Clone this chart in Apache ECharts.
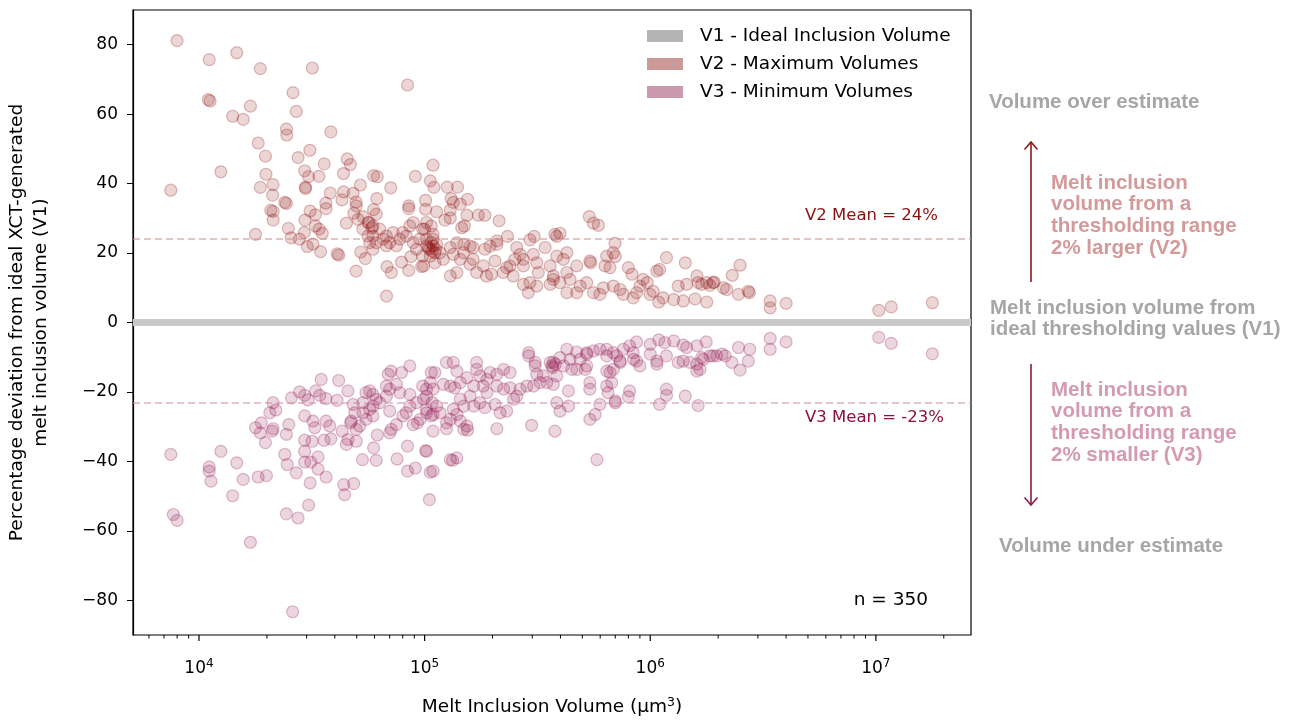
<!DOCTYPE html>
<html>
<head>
<meta charset="utf-8">
<script src="https://cdn.jsdelivr.net/npm/echarts@6/dist/echarts.min.js"></script>
<style>
  html, body { margin: 0; padding: 0; background: #fff; }
  #chart { width: 1298px; height: 720px; }
</style>
</head>
<body>
<div id="chart"></div>
<script>
// V2: thresholding range 2% larger -> [volume (µm3), deviation (%)]
const v2Max = [
  [8.0e3,81.2],[1.11e4,75.7],[1.47e4,77.7],[1.87e4,73.1],[3.18e4,73.3],[8.4e4,68.4],
  [1.10e4,64.2],[1.12e4,63.8],[2.61e4,66.2],[1.69e4,62.3],[1.41e4,59.4],[1.57e4,58.5],
  [2.70e4,60.8],[2.44e4,55.7],[2.45e4,54.0],[3.84e4,54.9],[1.83e4,51.7],[1.97e4,47.9],
  [2.75e4,47.5],[3.10e4,49.6],[3.59e4,45.7],[4.54e4,47.1],[4.69e4,45.5],[1.25e4,43.4],
  [7.5e3,38.1],[1.98e4,42.7],[2.94e4,43.7],[3.06e4,42.0],[3.40e4,42.1],[4.37e4,42.9],
  [5.94e4,42.3],[6.17e4,42.0],[9.1e4,42.1],[1.09e5,45.3],[1.87e4,38.9],[2.13e4,39.7],
  [2.96e4,39.0],[2.97e4,38.6],[5.19e4,39.6],[7.08e4,38.8],[1.06e5,40.8],[2.12e4,36.7],
  [3.82e4,37.3],[4.37e4,37.6],[4.82e4,37.2],[4.30e4,35.3],[6.14e4,35.7],[1.01e5,35.2],
  [2.40e4,34.6],[2.44e4,34.3],[3.65e4,34.4],[3.66e4,32.8],[4.97e4,34.7],[4.98e4,33.6],
  [8.5e4,33.6],[8.5e4,32.8],[1.01e5,32.6],[2.08e4,32.3],[2.13e4,32.0],[2.13e4,29.5],
  [3.11e4,32.1],[3.28e4,31.0],[2.95e4,29.5],[4.86e4,31.5],[5.33e4,30.5],[5.94e4,32.5],
  [6.1e4,31.2],[4.5e4,28.6],[5.07e4,29.7],[5.67e4,28.8],[5.85e4,27.3],[3.28e4,27.8],
  [3.41e4,26.9],[3.52e4,25.7],[2.49e4,27.1],[2.93e4,25.9],[1.78e4,25.4],[2.56e4,24.4],
  [2.79e4,24.0],[3.02e4,21.9],[3.2e4,22.6],[3.46e4,20.4],[4.10e4,19.8],[4.16e4,19.4],
  [4.97e4,14.8],[5.21e4,20.3],[5.46e4,18.4],[6.78e4,7.6],[6.81e4,16.1],[7.12e4,14.4],
  [7.9e4,17.4],[8.5e4,15.0],[8.7e4,19.0],[9.7e4,16.1],
  [5.61e4,28.8],[5.9e4,27.8],[6.32e4,26.9],[6.77e4,24.9],[7.25e4,25.9],[7.76e4,24.0],
  [8.3e4,24.9],[8.9e4,23.0],[9.5e4,24.0],[1.02e5,22.1],[1.05e5,21.1],[1.07e5,27.8],
  [1.02e5,28.8],[9.8e4,26.9],[8.9e4,28.8],[8.6e4,27.8],[8.0e4,25.9],[7.0e4,23.0],
  [6.54e4,24.0],[6.1e4,23.0],[5.9e4,21.1],[5.71e4,23.0],[5.61e4,24.9],[5.33e4,26.9],
  [5.9e4,24.9],[6.77e4,22.1],[7.5e4,22.1],[9.2e4,21.1],[9.8e4,19.1],[1.02e5,24.0],
  [1.09e5,24.0],
  [1.10e5,38.9],[1.26e5,39.0],[1.40e5,39.0],[1.31e5,35.7],[1.34e5,34.6],[1.44e5,34.1],
  [1.55e5,35.5],[1.13e5,31.9],[1.30e5,32.4],[1.54e5,30.9],[1.73e5,30.9],[1.85e5,30.9],
  [2.14e5,29.3],[1.23e5,29.5],[1.30e5,30.1],[1.00e5,26.9],[1.09e5,25.4],[1.46e5,27.3],
  [1.50e5,27.8],[5.37e5,30.5],[5.6e5,28.6],[5.89e5,28.0],[3.78e5,25.4],[3.98e5,25.7],
  [3.85e5,24.8],[3.06e5,24.8],[2.93e5,23.8],[2.33e5,24.8],[2.09e5,23.5],[2.09e5,22.5],
  [1.95e5,22.0],[1.85e5,21.1],[1.64e5,21.6],
  [1.07e5,23.0],[1.09e5,22.1],[1.12e5,21.1],[1.08e5,20.6],[1.11e5,20.1],[1.06e5,19.1],
  [1.04e5,21.6],[1.13e5,22.5],
  [2.56e5,21.6],[2.65e5,19.6],[2.51e5,18.2],[2.74e5,18.2],[3.03e5,19.6],[3.14e5,17.2],
  [3.42e5,21.6],[6.98e5,22.8],[6.86e5,20.1],[6.41e5,19.1],[6.3e5,16.3],[6.63e5,15.8],
  [7.0e5,19.0],[5.4e5,17.7],[5.45e5,17.2],[1.18e6,18.7],[1.43e6,17.2],[8.0e5,15.8],
  [8.3e5,13.9],[1.07e6,14.8],[1.10e6,15.3],[1.61e6,13.4],[1.63e6,11.5],[1.45e6,11.0],
  [1.33e6,10.5],[1.78e6,11.5],[1.90e6,11.5],[1.40e6,6.2],[1.78e6,5.9],[1.58e6,6.8],
  [1.27e6,6.6],[1.14e6,7.1],[1.09e6,5.9],[9.98e5,8.1],[1.03e6,9.0],[8.4e5,7.1],
  [8.7e5,8.6],[9.0e5,10.5],[9.3e5,12.4],[9.7e5,11.5],[7.35e5,9.5],[7.6e5,8.1],
  [6.86e5,10.5],[6.2e5,10.0],[5.98e5,8.1],[5.6e5,8.6],[5.23e5,11.5],[4.89e5,10.5],
  [4.27e5,8.6],[4.72e5,8.6],[4.41e5,12.4],[3.98e5,11.5],[3.72e5,12.4],[3.6e5,11.0],
  [3.19e5,14.4],[3.14e5,10.5],[2.93e5,11.5],[2.88e5,8.6],[2.74e5,11.0],[2.47e5,13.4],
  [2.23e5,14.4],[2.31e5,15.8],[1.98e5,13.9],[1.88e5,13.4],[1.70e5,14.4],[1.39e5,14.4],
  [1.30e5,13.4],[1.82e5,16.3],[2.05e5,17.7],[2.39e5,16.3],[2.74e5,16.3],[3.6e5,16.3],
  [3.72e5,13.4],[4.27e5,14.4],[4.72e5,16.3],[4.27e5,20.1],[3.85e5,19.1],[4.12e5,18.2],
  [1.64e5,18.2],[1.59e5,16.8],[1.44e5,18.2],[1.34e5,19.6],[1.49e5,20.1],[1.17e5,20.1],
  [1.21e5,18.2],[9.9e4,16.3],[1.11e5,17.2],[1.30e5,21.6],[1.39e5,23.0],[1.49e5,22.5],
  [1.59e5,22.0],
  [2.5e6,16.5],[2.31e6,13.6],[1.92e6,11.6],[1.84e6,10.7],[1.69e6,11.0],[2.11e6,10.0],
  [2.18e6,9.5],[2.46e6,8.1],[2.72e6,9.0],[2.75e6,8.6],[3.4e6,6.2],[3.4e6,4.2],
  [4.0e6,5.5],[1.03e7,3.5],[1.17e7,4.5],[1.78e7,5.7]
];

// V3: thresholding range 2% smaller
const v3Min = [
  [7.5e3,-38.0],[7.7e3,-55.3],[8.0e3,-57.0],[1.11e4,-41.6],[1.11e4,-42.8],[1.13e4,-45.7],
  [1.25e4,-37.1],[1.47e4,-40.4],[1.41e4,-49.9],[1.57e4,-45.2],[1.69e4,-63.3],[1.83e4,-44.5],
  [1.99e4,-44.1],[1.78e4,-30.3],[1.89e4,-28.9],[2.13e4,-30.6],[2.11e4,-31.3],[1.87e4,-31.8],
  [1.97e4,-34.6],[2.06e4,-26.0],[2.13e4,-23.1],[2.19e4,-25.2],[2.40e4,-38.0],[2.46e4,-40.9],
  [2.44e4,-32.2],[2.50e4,-29.4],[2.44e4,-55.1],[2.60e4,-83.3],[2.75e4,-56.3],[2.70e4,-43.3],
  [2.57e4,-21.7],[2.79e4,-20.0],[2.94e4,-21.0],[3.04e4,-22.3],[2.94e4,-26.9],[3.2e4,-28.4],
  [3.26e4,-30.3],[2.94e4,-33.9],[3.17e4,-34.2],[2.94e4,-37.1],[2.94e4,-40.2],[3.13e4,-40.2],
  [3.37e4,-38.7],[3.37e4,-42.2],[3.66e4,-44.5],[3.11e4,-46.2],[3.06e4,-52.6],[3.29e4,-19.7],
  [3.48e4,-16.4],[3.43e4,-21.0],[3.65e4,-21.9],[3.58e4,-33.9],[3.84e4,-33.5],[3.66e4,-28.4],
  [3.8e4,-29.8],[4.16e4,-16.7],[4.09e4,-22.4],[4.57e4,-19.7],[4.31e4,-31.3],[4.57e4,-33.7],
  [4.5e4,-35.1],[4.98e4,-34.2],[4.38e4,-46.7],[4.42e4,-49.6],[4.85e4,-46.4],[5.3e4,-39.5],
  [6.1e4,-39.7],[5.94e4,-36.1],[6.17e4,-32.4],[4.73e4,-28.4],[5.15e4,-29.8],[4.98e4,-30.8],
  [7.0e4,-25.5],[7.12e4,-30.8],[7.5e4,-29.4],[7.0e4,-31.8],[7.55e4,-39.3],[8.4e4,-42.8],
  [9.1e4,-41.9],[8.4e4,-35.6],[1.01e5,-36.9],[1.06e5,-43.1],[1.05e5,-51.0],[8.9e4,-29.4],
  [6.9e4,-14.9],[7.1e4,-14.0],[7.9e4,-14.4],[8.6e4,-12.5],[6.77e4,-18.3],[7.5e4,-17.8],
  [5.9e4,-20.7],[5.5e4,-20.2],[5.33e4,-23.1],[5.71e4,-25.0],[5.9e4,-26.9],[4.82e4,-23.6],
  [4.9e4,-26.0],[5.5e4,-27.9],[6.32e4,-23.1],[6.77e4,-21.2],[7.76e4,-20.2],[8.6e4,-20.7],
  [8.6e4,-24.1],[9.2e4,-23.1],[9.8e4,-18.3],[1.02e5,-21.2],[1.02e5,-25.0],[1.07e5,-14.4],
  [1.07e5,-26.9],[8.3e4,-26.0],[8.0e4,-26.9],[7.0e4,-19.2],[5.9e4,-24.1],[6.1e4,-22.1],
  [5.71e4,-19.7],[5.33e4,-26.0],[4.7e4,-28.9],[9.3e4,-28.9],
  [5.8e5,-39.5],[1.09e6,-5.0],[1.16e6,-5.8],[1.27e6,-5.3],[1.40e6,-6.5],[1.45e6,-7.2],
  [1.61e6,-6.7],[1.77e6,-5.6],[8.7e5,-5.6],[8.1e5,-6.7],[7.6e5,-7.7],[1.0e6,-6.3],
  [8.4e5,-8.7],[6.86e5,-8.7],[6.41e5,-7.7],[5.98e5,-7.7],[5.6e5,-8.2],[5.23e5,-8.7],
  [4.72e5,-8.5],[4.27e5,-7.7],[3.98e5,-10.1],[4.41e5,-10.6],[4.89e5,-10.6],[5.23e5,-9.1],
  [6.41e5,-9.6],[7.1e5,-9.6],[7.35e5,-11.1],[8.7e5,-11.1],[9.0e5,-12.5],[1.07e6,-11.1],
  [1.07e6,-12.0],[1.0e6,-9.1],[1.18e6,-9.6],[1.33e6,-11.5],[1.40e6,-11.1],[1.50e6,-11.5],
  [1.61e6,-12.0],[1.61e6,-14.0],[1.69e6,-10.1],[1.84e6,-9.6],[1.97e6,-9.6],
  [5.4e5,-17.3],[5.4e5,-19.2],[6.41e5,-18.3],[6.75e5,-17.3],[6.5e5,-20.2],[7.0e5,-22.6],
  [7.0e5,-23.1],[8.1e5,-19.7],[8.0e5,-21.4],[1.18e6,-19.2],[1.18e6,-21.0],[1.10e6,-23.6],
  [1.43e6,-21.2],[1.63e6,-23.9],[5.98e5,-23.6],[5.4e5,-27.9],[5.7e5,-26.5],[4.34e5,-19.7],
  [4.34e5,-24.1],[3.85e5,-23.1],[3.98e5,-25.5],[3.78e5,-31.3],[2.98e5,-29.6],[2.09e5,-30.6],
  [1.49e5,-30.8],[1.55e5,-31.0],[1.25e5,-30.6],[1.09e5,-31.3],[1.02e5,-37.1],[1.30e5,-39.5],
  [1.39e5,-39.0],[1.33e5,-39.7],[1.09e5,-42.8],
  [2.89e5,-8.7],[2.89e5,-9.6],[3.09e5,-11.5],[3.09e5,-12.5],[3.6e5,-11.5],[3.66e5,-12.5],
  [3.72e5,-11.5],[4.13e5,-12.5],[4.49e5,-13.5],[4.73e5,-13.5],[5.15e5,-13.5],[5.23e5,-12.5],
  [6.42e5,-14.0],[6.64e5,-14.4],[6.87e5,-13.5],[7.36e5,-11.5],[8.43e5,-10.6],[2.39e5,-14.4],
  [2.24e5,-13.5],[2.09e5,-14.9],[1.95e5,-14.4],[1.89e5,-16.4],[1.76e5,-15.4],[1.65e5,-18.3],
  [1.54e5,-15.9],[1.44e5,-17.3],[1.36e5,-18.8],[1.30e5,-18.3],[1.25e5,-11.5],[1.34e5,-11.5],
  [1.39e5,-14.0],[1.70e5,-11.5],[1.70e5,-13.5],[1.11e5,-14.4],[1.21e5,-17.8],[1.06e5,-17.3],
  [1.02e5,-19.2],[1.09e5,-19.2],[9.9e4,-22.1],[1.08e5,-23.1],[1.13e5,-24.1],[1.02e5,-26.0],
  [9.55e4,-27.9],[1.44e5,-22.1],[1.49e5,-24.1],[1.34e5,-25.0],[1.65e5,-24.1],[1.59e5,-21.2],
  [1.85e5,-24.5],[2.05e5,-23.6],[2.16e5,-26.0],[2.31e5,-25.5],[2.48e5,-22.1],[2.56e5,-21.2],
  [2.65e5,-19.2],[2.84e5,-18.3],[3.04e5,-18.3],[3.25e5,-17.3],[3.48e5,-17.3],[3.72e5,-17.8],
  [3.14e5,-14.9],[3.36e5,-15.4],[3.85e5,-15.4],[2.24e5,-19.2],[2.39e5,-18.8],[2.09e5,-18.3],
  [1.89e5,-20.2],[1.82e5,-18.3],[1.30e5,-27.9],[1.25e5,-28.9],[1.44e5,-28.4],[1.54e5,-29.8],
  [1.76e5,-23.1],[1.39e5,-26.5],[1.17e5,-26.0],[1.09e5,-26.5],[3.7e5,-13.0],[3.8e5,-12.0],
  [2.46e6,-7.2],[2.76e6,-7.7],[2.72e6,-11.1],[2.5e6,-13.7],[2.3e6,-11.5],[2.15e6,-9.6],
  [2.08e6,-9.1],[1.9e6,-9.6],[1.72e6,-10.6],[1.66e6,-13.5],[3.4e6,-4.6],[3.4e6,-7.7],
  [4.0e6,-5.6],[1.03e7,-4.3],[1.17e7,-6.0],[1.78e7,-9.0]
];

const v2Mean = 24;
const v3Mean = -23;
const sampleCount = 350;
const yTicks = [-80, -60, -40, -20, 0, 20, 40, 60, 80];
const xMajorTicks = [1e4, 1e5, 1e6, 1e7];
const xMinorTicks = [6e3, 7e3, 8e3, 9e3, 2e4, 3e4, 4e4, 5e4, 6e4, 7e4, 8e4, 9e4,
  2e5, 3e5, 4e5, 5e5, 6e5, 7e5, 8e5, 9e5, 2e6, 3e6, 4e6, 5e6, 6e6, 7e6, 8e6, 9e6, 2e7];
const xRange = [5100, 2.64e7];
const yRange = [-90, 90];

const V1 = 'V1 - Ideal Inclusion Volume';
const V2 = 'V2 - Maximum Volumes';
const V3 = 'V3 - Minimum Volumes';
const FONT = 'DejaVu Sans';
const RFONT = 'Liberation Sans';

const chart = echarts.init(document.getElementById('chart'));

function meanLine(value, color) {
  return {
    silent: true,
    symbol: 'none',
    label: { show: false },
    lineStyle: { color: color, width: 2, type: [7, 4] },
    data: [{ yAxis: value }]
  };
}

chart.setOption({
  animation: false,
  grid: {
    left: 133, top: 10, width: 838, height: 625,
    outerBoundsMode: 'none',
    show: true, borderColor: '#000', borderWidth: 1.2, backgroundColor: 'transparent'
  },
  legend: {
    orient: 'vertical',
    left: 647, top: 26,
    padding: 0,
    icon: 'rect',
    itemWidth: 36, itemHeight: 12, itemGap: 8,
    textStyle: { fontFamily: FONT, fontSize: 18.5, color: '#000', lineHeight: 20, padding: [0, 0, 0, 12] },
    data: [
      { name: V1, itemStyle: { color: '#b4b4b4', opacity: 1 }, lineStyle: { opacity: 0 } },
      { name: V2, itemStyle: { color: '#cc9a96', borderWidth: 0, opacity: 1 } },
      { name: V3, itemStyle: { color: '#cc9aae', borderWidth: 0, opacity: 1 } }
    ]
  },
  xAxis: [{
    type: 'log', logBase: 10, min: xRange[0], max: xRange[1],
    position: 'bottom',
    splitLine: { show: false },
    axisLine: { lineStyle: { color: '#000', width: 1.2 } },
    axisTick: { show: false },
    axisLabel: {
      margin: 23,
      color: '#000',
      showMinLabel: false, showMaxLabel: false,
      formatter: function (v) {
        const l = Math.log10(v);
        const e = Math.round(l);
        if (Math.abs(l - e) > 1e-6) return '';
        return '{b|10}{s|' + e + '}';
      },
      rich: {
        b: { fontFamily: FONT, fontSize: 17, color: '#000' },
        s: { fontFamily: FONT, fontSize: 12, color: '#000', padding: [0, 0, 10, 0] }
      }
    },
    name: 'Melt Inclusion Volume (µm{s|3})',
    nameLocation: 'middle',
    nameGap: 61,
    nameTextStyle: {
      fontFamily: FONT, fontSize: 18.5, color: '#000',
      rich: { s: { fontFamily: FONT, fontSize: 12.5, color: '#000', padding: [0, 0, 10, 0] } }
    }
  }],
  yAxis: {
    type: 'value', min: yRange[0], max: yRange[1],
    splitLine: { show: false },
    axisLine: { show: true, lineStyle: { color: '#000', width: 1.2 } },
    axisTick: { show: true, customValues: yTicks, length: 6, lineStyle: { color: '#000' } },
    axisLabel: {
      customValues: yTicks,
      margin: 15,
      fontFamily: FONT, fontSize: 17, color: '#000',
      formatter: function (v) { return v < 0 ? '\u2212' + Math.abs(v) : String(v); }
    },
    name: 'Percentage deviation from ideal XCT-generated\nmelt inclusion volume (V1)',
    nameLocation: 'middle',
    nameGap: 80,
    nameRotate: 90,
    nameTextStyle: { fontFamily: FONT, fontSize: 18.5, color: '#000', lineHeight: 24, align: 'center' }
  },
  series: [
    {
      name: V1, type: 'line', data: [],
      itemStyle: { color: '#b4b4b4' },
      markLine: {
        silent: true, symbol: 'none', label: { show: false },
        lineStyle: { color: '#c9c9c9', width: 7, type: 'solid' },
        data: [{ yAxis: 0 }]
      },
      z: 1
    },
    {
      name: V2, type: 'scatter', data: v2Max, symbolSize: 12,
      itemStyle: { color: 'rgba(139,8,8,0.21)', borderColor: 'rgba(139,8,8,0.33)', borderWidth: 1.2 },
      markLine: meanLine(v2Mean, 'rgba(200,140,140,0.5)'),
      z: 3
    },
    {
      name: V3, type: 'scatter', data: v3Min, symbolSize: 12,
      itemStyle: { color: 'rgba(139,8,68,0.21)', borderColor: 'rgba(139,8,68,0.33)', borderWidth: 1.2 },
      markLine: meanLine(v3Mean, 'rgba(200,140,165,0.5)'),
      z: 3
    }
  ]
});

// minor and major x ticks, mean labels and the side annotations
const baseY = chart.convertToPixel({ gridIndex: 0 }, [xRange[0], yRange[0]])[1];
const graphics = [];
xMajorTicks.forEach(function (v) {
  const px = chart.convertToPixel({ gridIndex: 0 }, [v, 0])[0];
  graphics.push({ type: 'line', shape: { x1: px, y1: baseY, x2: px, y2: baseY + 6 }, style: { stroke: '#000', lineWidth: 1.2 } });
});
xMinorTicks.forEach(function (v) {
  const px = chart.convertToPixel({ gridIndex: 0 }, [v, 0])[0];
  graphics.push({ type: 'line', shape: { x1: px, y1: baseY, x2: px, y2: baseY + 3.5 }, style: { stroke: '#000', lineWidth: 1 } });
});

const y2 = chart.convertToPixel({ gridIndex: 0 }, [1e6, v2Mean])[1];
const y3 = chart.convertToPixel({ gridIndex: 0 }, [1e6, v3Mean])[1];
graphics.push(
  { type: 'text', style: { text: 'V2 Mean = ' + v2Mean + '%', x: 938, y: y2 - 23, align: 'right', verticalAlign: 'middle', fontFamily: FONT, fontSize: 16.5, fill: '#8b1010' } },
  { type: 'text', style: { text: 'V3 Mean = ' + v3Mean + '%', x: 944, y: y3 + 15, align: 'right', verticalAlign: 'middle', fontFamily: FONT, fontSize: 16.5, fill: '#8b1040' } },
  { type: 'text', style: { text: 'n = ' + sampleCount, x: 928, y: 600, align: 'right', verticalAlign: 'middle', fontFamily: FONT, fontSize: 18.5, fill: '#000' } }
);

const grey = '#a6a6a6';
const pink2 = '#d49a9a';
const pink3 = '#d49ab2';
function sideText(text, x, y, color) {
  return {
    type: 'text',
    style: {
      text: text, x: x, y: y, align: 'left', verticalAlign: 'top',
      fontFamily: RFONT, fontWeight: 'bold', fontSize: 20.5, lineHeight: 21.7, fill: color
    }
  };
}
graphics.push(
  sideText('Volume over estimate', 989, 91, grey),
  sideText('Melt inclusion\nvolume from a\nthresholding range\n2% larger (V2)', 1051, 172, pink2),
  sideText('Melt inclusion volume from\nideal thresholding values (V1)', 990, 297, grey),
  sideText('Melt inclusion\nvolume from a\nthresholding range\n2% smaller (V3)', 1051, 379, pink3),
  sideText('Volume under estimate', 999, 535, grey),
  { type: 'line', shape: { x1: 1031, y1: 282, x2: 1031, y2: 142 }, style: { stroke: '#8b1a1a', lineWidth: 1.6 } },
  { type: 'polyline', shape: { points: [[1024.5, 149.5], [1031, 142], [1037.5, 149.5]] }, style: { stroke: '#8b1a1a', lineWidth: 1.6, fill: null } },
  { type: 'line', shape: { x1: 1031, y1: 364, x2: 1031, y2: 505 }, style: { stroke: '#8b1a4b', lineWidth: 1.6 } },
  { type: 'polyline', shape: { points: [[1024.5, 497.5], [1031, 505], [1037.5, 497.5]] }, style: { stroke: '#8b1a4b', lineWidth: 1.6, fill: null } }
);

chart.setOption({ graphic: graphics });
</script>
</body>
</html>
